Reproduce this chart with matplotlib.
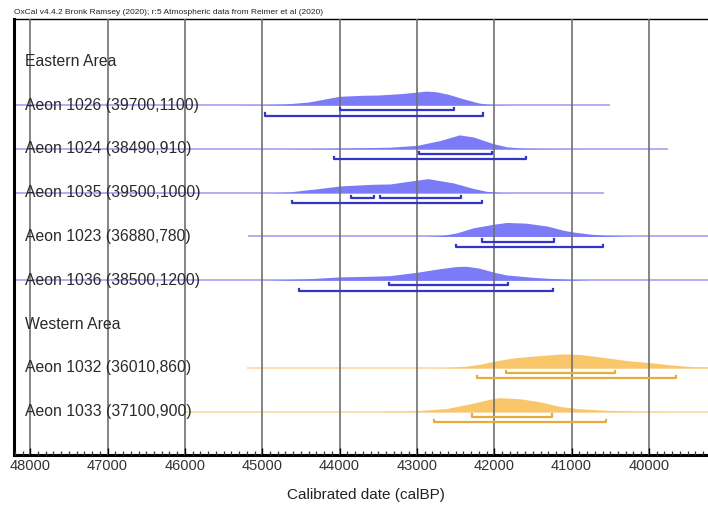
import numpy as np
import matplotlib.pyplot as plt
from matplotlib.transforms import blended_transform_factory

plt.rcParams['font.family'] = ['Liberation Sans', 'DejaVu Sans']

# rows from top to bottom (None = group heading)
row_labels = ["Eastern Area",
              "Aeon 1026 (39700,1100)",
              "Aeon 1024 (38490,910)",
              "Aeon 1035 (39500,1000)",
              "Aeon 1023 (36880,780)",
              "Aeon 1036 (38500,1200)",
              "Western Area",
              "Aeon 1032 (36010,860)",
              "Aeon 1033 (37100,900)"]
row_group = [None, "E", "E", "E", "E", "E", None, "W", "W"]

# calibrated probability (percent of peak)
years_1026 = [45300, 45000, 44700, 44400, 44000, 43700, 43500, 43200, 43000, 42880, 42750, 42600, 42400, 42200, 42050, 41800]
prob_1026 = [0, 2, 8, 22, 63, 70, 72, 82, 93, 100, 95, 78, 45, 15, 4, 0]

years_1024 = [44650, 44000, 43350, 43000, 42700, 42450, 42270, 42010, 41840, 41620, 41200, 40800]
prob_1024 = [0, 5, 12, 25, 60, 100, 85, 37, 15, 5, 1, 0]

years_1035 = [44900, 44650, 44430, 44300, 44000, 43570, 43350, 43000, 42855, 42530, 42270, 42100, 41930, 41800]
prob_1035 = [0, 5, 20, 27, 48, 60, 62, 90, 100, 70, 30, 10, 2, 0]

years_1023 = [42900, 42700, 42490, 42270, 42000, 41840, 41590, 41320, 41110, 40980, 40760, 40550, 40330, 40100]
prob_1023 = [0, 5, 25, 62, 88, 100, 95, 75, 45, 32, 17, 7, 2, 0]

years_1036 = [45000, 44860, 44430, 44000, 43570, 43350, 43000, 42700, 42490, 42360, 42190, 42000, 41840, 41500, 41240, 40980, 40760]
prob_1036 = [0, 2, 10, 24, 29, 33, 57, 83, 98, 100, 86, 57, 38, 21, 12, 5, 0]

years_1032 = [42800, 42620, 42360, 42190, 42000, 41760, 41540, 41240, 41110, 40890, 40690, 40460, 40250, 40000, 39730, 39470, 39240]
prob_1032 = [0, 2, 12, 25, 48, 70, 82, 95, 100, 95, 82, 65, 50, 38, 22, 10, 5]

years_1033 = [43480, 43050, 42620, 42320, 42060, 41930, 41670, 41410, 41150, 40890, 40550, 40120, 39600]
prob_1033 = [1, 5, 22, 55, 88, 100, 92, 70, 37, 20, 10, 2, 0]

dists = {1: (years_1026, prob_1026), 2: (years_1024, prob_1024), 3: (years_1035, prob_1035),
         4: (years_1023, prob_1023), 5: (years_1036, prob_1036),
         7: (years_1032, prob_1032), 8: (years_1033, prob_1033)}

# highest posterior density ranges
range68 = {1: [(43990, 42520)], 2: [(42970, 42035)], 3: [(43855, 43555), (43480, 42436)],
           4: [(42152, 41224)], 5: [(43362, 41826)], 7: [(41842, 40438)], 8: [(42287, 41256)]}
range95 = {1: [(44962, 42150)], 2: [(44075, 41590)], 3: [(44616, 42157)],
           4: [(42496, 40590)], 5: [(44529, 41237)], 7: [(42217, 39644)], 8: [(42778, 40552)]}

# extent of the thin base line (None = edge of the plot)
line_start = {1: None, 2: None, 3: None, 4: 45180, 5: None, 7: 45200, 8: 46000}
line_end = {1: 40500, 2: 39750, 3: 40580, 4: None, 5: None, 7: None, 8: None}

x_left, x_right = 48210, 39236

colors = {"E": ("#7b7bf7", "#3434c8", "#a9a9f2"),
          "W": ("#f9c76a", "#e6ad3c", "#fbdcab")}

fig = plt.figure(figsize=(7.08, 5.08), dpi=100)
ax = fig.add_axes([14 / 708, 1 - 455 / 508, 1 - 14 / 708, (455 - 19) / 508])
ax.set_xlim(x_left, x_right)
ax.set_ylim(8.99, -0.966)

trans = blended_transform_factory(ax.transAxes, ax.transData)
peak_h = 0.32

for k, label in enumerate(row_labels):
    ax.text(0.016, k, label, transform=trans, va="center", ha="left",
            fontsize=11.3, color="#2a2a2a", zorder=5)
    g = row_group[k]
    if g is None:
        continue
    fill_c, dark_c, light_c = colors[g]
    x0 = line_start[k] if line_start[k] is not None else x_left
    x1 = line_end[k] if line_end[k] is not None else x_right
    ax.plot([x0, x1], [k, k], color=light_c, lw=1.3, zorder=1, solid_capstyle="butt")
    yrs, pr = dists[k]
    top = k - np.array(pr) / 100 * peak_h
    ax.fill_between(yrs, k, top, color=fill_c, lw=0, zorder=1.5)
    for off, ranges in ((0.115, range68[k]), (0.24, range95[k])):
        for a, b in ranges:
            ax.plot([a, a, b, b], [k + off - 0.05, k + off, k + off, k + off - 0.05],
                    color=dark_c, lw=1.6, zorder=3)

ax.set_xticks(range(48000, 39999, -1000))
ax.set_xticks(range(48200, 39200, -100), minor=True)
ax.tick_params(axis="x", which="major", direction="in", length=5, width=1,
               labelsize=10.5, labelcolor="#333333", pad=3)
ax.tick_params(axis="x", which="minor", direction="in", length=3, width=0.9,
               color="#333333")
ax.set_yticks([])
ax.set_axisbelow(False)
ax.grid(axis="x", color="#707070", lw=1.2)

ax.spines["left"].set_linewidth(2.2)
ax.spines["bottom"].set_linewidth(2.2)
ax.spines["top"].set_linewidth(1.0)
ax.spines["right"].set_visible(False)

fig.text(14 / 708, 1 - 13 / 508,
         "OxCal v4.4.2 Bronk Ramsey (2020); r:5 Atmospheric data from Reimer et al (2020)",
         fontsize=6, color="#222222", va="center", ha="left")
fig.text(366 / 708, 1 - 495 / 508, "Calibrated date (calBP)", fontsize=11,
         color="#222222", ha="center", va="center")

fig.savefig("out.png", dpi=100)
